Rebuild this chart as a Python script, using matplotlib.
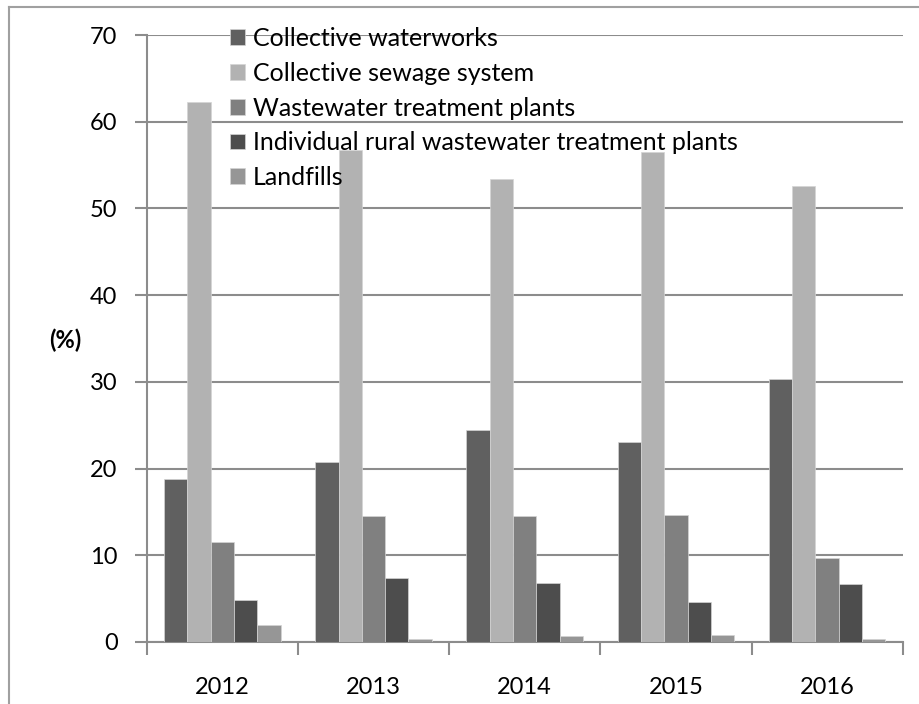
import numpy as np
import matplotlib
matplotlib.use("Agg")
import matplotlib.pyplot as plt
from matplotlib.lines import Line2D

years = ["2012", "2013", "2014", "2015", "2016"]
series = ["Collective waterworks", "Collective sewage system",
          "Wastewater treatment plants",
          "Individual rural wastewater treatment plants", "Landfills"]
waterworks = [18.8, 20.8, 24.5, 23.1, 30.3]
sewage = [62.3, 56.7, 53.4, 56.5, 52.6]
wwtp = [11.5, 14.5, 14.5, 14.6, 9.7]
individual = [4.9, 7.4, 6.8, 4.6, 6.7]
landfills = [2.0, 0.3, 0.7, 0.8, 0.35]
colors = ["#606060", "#b2b2b2", "#808080", "#4d4d4d", "#969696"]

plt.rcParams["font.family"] = ["Lato", "DejaVu Sans"]
grid_c = "#8c8c8c"

W, H = 919, 704
fig = plt.figure(figsize=(W / 100, H / 100), dpi=100)
ax = fig.add_axes([146.7 / W, 1 - 642 / H, (902.7 - 146.7) / W, (642 - 35) / H])

x = np.arange(len(years))
bw = 0.154
data = [waterworks, sewage, wwtp, individual, landfills]
for i, (vals, name, c) in enumerate(zip(data, series, colors)):
    ax.bar(x + (i - 2) * bw, vals, bw, color=c, label=name,
           edgecolor="#d4d4d4", linewidth=0.5, zorder=3)

ax.set_xlim(-0.5, len(years) - 0.5)
ax.set_ylim(0, 70)
ax.set_yticks(range(0, 71, 10))
ax.yaxis.grid(True, color=grid_c, linewidth=1.5, zorder=0)
ax.set_axisbelow(True)

# category labels centred, tick marks on the boundaries
ax.set_xticks(x)
ax.set_xticklabels(years)
ax.set_xticks(np.arange(-0.5, len(years), 1), minor=True)
ax.tick_params(axis="x", which="major", length=0, pad=25, labelsize=17)
ax.tick_params(axis="x", which="minor", length=9, width=1.5, color=grid_c, direction="out")
ax.tick_params(axis="y", length=9, width=1.5, color=grid_c, pad=12, labelsize=17)

for s in ["top", "right"]:
    ax.spines[s].set_visible(False)
for s in ["left", "bottom"]:
    ax.spines[s].set_color(grid_c)
    ax.spines[s].set_linewidth(1.5)

fig.text(65 / W, 1 - 340 / H, "(%)", fontsize=17, fontweight="bold",
         ha="center", va="center")

leg = fig.legend(loc="upper left", bbox_to_anchor=(230 / W, 1 - 27 / H),
                 frameon=False, fontsize=18, handlelength=0.59, handleheight=0.59,
                 handletextpad=0.33, labelspacing=0.47, borderpad=0, borderaxespad=0)

# outer border (top and left only, the image is cropped)
fig.add_artist(Line2D([9 / W, 1], [1 - 7 / H, 1 - 7 / H], color="#a0a0a0", linewidth=1.5))
fig.add_artist(Line2D([9 / W, 9 / W], [0, 1 - 7 / H], color="#a0a0a0", linewidth=1.5))

fig.savefig("out.png", dpi=100)
